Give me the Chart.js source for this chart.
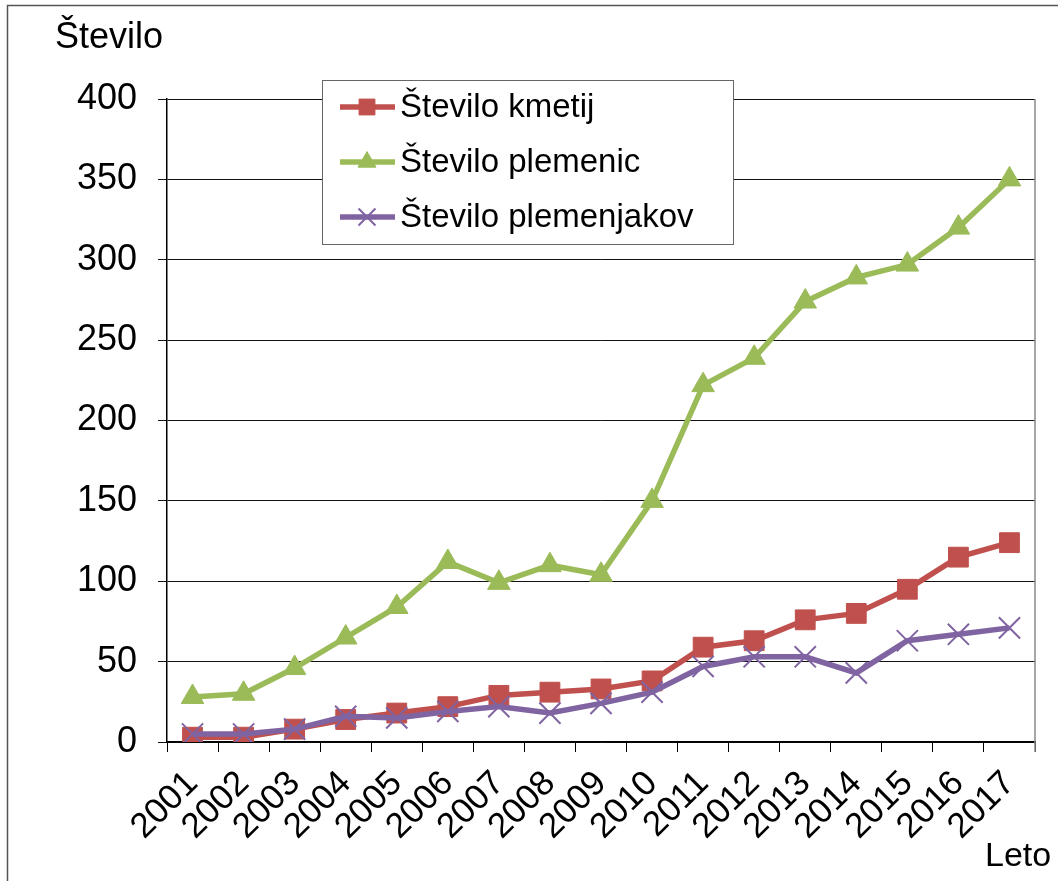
<!DOCTYPE html>
<html>
<head>
<meta charset="utf-8">
<script src="https://cdn.jsdelivr.net/npm/chart.js@4.4.0/dist/chart.umd.min.js"></script>
<style>
  html, body { margin: 0; padding: 0; background: #fff; }
  #wrap { width: 1058px; height: 881px; position: relative; }
</style>
</head>
<body>
<div id="wrap"><canvas id="chart"></canvas></div>
<script>
const years = ["2001", "2002", "2003", "2004", "2005", "2006", "2007", "2008", "2009",
  "2010", "2011", "2012", "2013", "2014", "2015", "2016", "2017"];
const kmetije = [3, 3, 8, 14, 18, 22, 29, 31, 33, 38, 59, 63, 76, 80, 95, 115, 124];
const plemenice = [28, 30, 46, 65, 84, 112, 99, 110, 104, 150, 222, 239, 274, 289, 297, 320, 350];
const plemenjaki = [5, 5, 8, 16, 15, 19, 22, 18, 24, 31, 47, 53, 53, 43, 63, 67, 71];
const yTicks = [0, 50, 100, 150, 200, 250, 300, 350, 400];

const FONT = "'Liberation Sans', Arial, sans-serif";

const framePlugin = {
  id: "frame",
  beforeDraw(chart) {
    const ctx = chart.ctx;
    ctx.save();
    ctx.fillStyle = "#fff";
    ctx.fillRect(0, 0, chart.width, chart.height);
    ctx.strokeStyle = "#555";
    ctx.lineWidth = 1.5;
    ctx.beginPath();
    ctx.moveTo(7.5, chart.height);
    ctx.lineTo(7.5, 5.5);
    ctx.lineTo(chart.width, 5.5);
    ctx.stroke();
    ctx.restore();
  },
  afterDatasetsDraw(chart) {
    const ctx = chart.ctx;
    const a = chart.chartArea;
    ctx.save();
    // right edge of plot area
    ctx.strokeStyle = "#888";
    ctx.lineWidth = 1.5;
    ctx.beginPath();
    ctx.moveTo(a.right, a.top);
    ctx.lineTo(a.right, a.bottom + 10);
    ctx.stroke();

    // axis titles
    ctx.fillStyle = "#000";
    ctx.textAlign = "left";
    ctx.textBaseline = "alphabetic";
    ctx.font = "36px " + FONT;
    ctx.fillText("Število", 55, 48);
    ctx.font = "34px " + FONT;
    ctx.fillText("Leto", 985, 866);

    // legend box
    const bx = 322, by = 80, bw = 411, bh = 164;
    ctx.fillStyle = "#fff";
    ctx.fillRect(bx, by, bw, bh);
    ctx.strokeStyle = "#666";
    ctx.lineWidth = 1;
    ctx.strokeRect(bx + 0.5, by + 0.5, bw, bh);
    chart.data.datasets.forEach((ds, i) => {
      const y = by + 27 + i * 55;
      ctx.strokeStyle = ds.borderColor;
      ctx.lineWidth = 5.5;
      ctx.beginPath();
      ctx.moveTo(340, y);
      ctx.lineTo(395, y);
      ctx.stroke();
      ctx.fillStyle = ds.pointBackgroundColor;
      ctx.strokeStyle = ds.pointBorderColor;
      ctx.lineWidth = ds.pointBorderWidth;
      Chart.helpers.drawPoint(ctx, {
        pointStyle: ds.pointStyle,
        radius: ds.pointStyle === "crossRot" ? 12 : ds.pointRadius * 0.8,
        borderWidth: ds.pointBorderWidth,
        rotation: 0
      }, 367, y);
      ctx.fillStyle = "#000";
      ctx.font = "33px " + FONT;
      ctx.textAlign = "left";
      ctx.textBaseline = "middle";
      ctx.fillText(ds.label, 400, y + 1);
    });
    ctx.restore();
  }
};

new Chart(document.getElementById("chart"), {
  type: "line",
  data: {
    labels: years,
    datasets: [
      {
        label: "Število kmetij",
        data: kmetije,
        borderColor: "#C0504D",
        backgroundColor: "#C0504D",
        pointBackgroundColor: "#C0504D",
        pointBorderColor: "#C0504D",
        pointStyle: "rect",
        pointRadius: 14,
        pointBorderWidth: 1,
        borderWidth: 5.5,
        tension: 0,
        order: 3
      },
      {
        label: "Število plemenic",
        data: plemenice,
        borderColor: "#9BBB59",
        backgroundColor: "#9BBB59",
        pointBackgroundColor: "#9BBB59",
        pointBorderColor: "#9BBB59",
        pointStyle: "triangle",
        pointRadius: 13,
        pointBorderWidth: 1,
        borderWidth: 5.5,
        tension: 0,
        order: 2
      },
      {
        label: "Število plemenjakov",
        data: plemenjaki,
        borderColor: "#8064A2",
        backgroundColor: "#8064A2",
        pointBackgroundColor: "#8064A2",
        pointBorderColor: "#8064A2",
        pointStyle: "crossRot",
        pointRadius: 15,
        pointBorderWidth: 2,
        borderWidth: 5.5,
        tension: 0,
        order: 1
      }
    ]
  },
  options: {
    responsive: true,
    maintainAspectRatio: false,
    animation: false,
    layout: {
      padding: { top: 99, right: 23, left: 0, bottom: 0 }
    },
    plugins: {
      legend: { display: false },
      tooltip: { enabled: false }
    },
    scales: {
      x: {
        offset: true,
        grid: {
          offset: true,
          drawOnChartArea: false,
          color: "#000",
          tickLength: 10
        },
        border: { color: "#000", width: 1.5 },
        ticks: {
          autoSkip: false,
          minRotation: 45,
          maxRotation: 45,
          color: "#000",
          padding: 11,
          font: { family: FONT, size: 35 }
        },
        afterFit(scale) {
          scale.height = 139;
        }
      },
      y: {
        min: 0,
        max: 400,
        afterBuildTicks(scale) {
          scale.ticks = yTicks.map(v => ({ value: v }));
        },
        grid: {
          color: "#111",
          lineWidth: 1,
          tickLength: 9
        },
        border: { color: "#000", width: 1.5 },
        ticks: {
          color: "#000",
          padding: 21,
          font: { family: FONT, size: 36 }
        },
        afterFit(scale) {
          scale.width = 167;
        }
      }
    }
  },
  plugins: [framePlugin]
});
</script>
</body>
</html>
